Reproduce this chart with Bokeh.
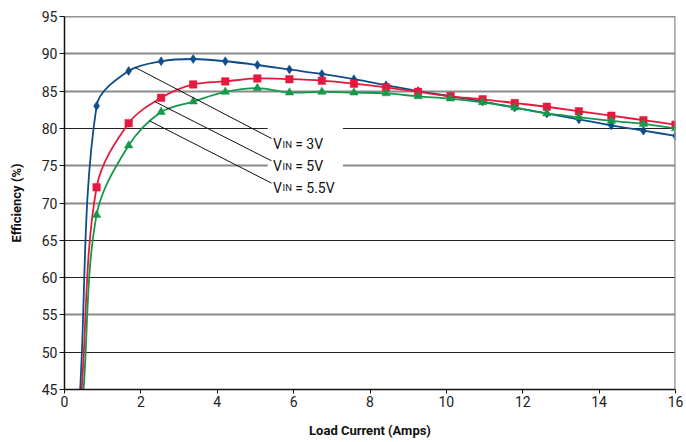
import numpy as np
from bokeh.plotting import figure
from bokeh.models import Range1d, FixedTicker, Grid, Span
from bokeh.core.properties import value
from bokeh.embed import file_html
from bokeh.resources import INLINE

# ---- data ----
load_current = [0.84, 1.68, 2.53, 3.37, 4.21, 5.05, 5.89, 6.74, 7.58, 8.42,
                9.26, 10.11, 10.95, 11.79, 12.63, 13.47, 14.32, 15.16, 16.0]
eff_3v = [83.0, 87.7, 89.0, 89.3, 89.0, 88.5, 87.9, 87.3, 86.6, 85.8,
          85.0, 84.3, 83.6, 82.8, 82.0, 81.2, 80.4, 79.7, 79.0]
eff_5v = [72.1, 80.7, 84.1, 85.9, 86.3, 86.7, 86.6, 86.4, 86.0, 85.5,
          84.9, 84.3, 83.9, 83.4, 82.9, 82.3, 81.7, 81.1, 80.5]
eff_5p5v = [68.4, 77.7, 82.2, 83.6, 84.9, 85.4, 84.8, 84.9, 84.8, 84.7,
            84.3, 84.0, 83.5, 82.8, 82.0, 81.5, 81.0, 80.6, 80.0]
# where each curve leaves the bottom of the chart (45 %)
start_current = [0.41, 0.45, 0.50]
start_eff = [45.0, 45.0, 45.0]

series_names = ["3V", "5V", "5.5V"]
y_ticks = [45, 50, 55, 60, 65, 70, 75, 80, 85, 90, 95]
x_ticks = [0, 2, 4, 6, 8, 10, 12, 14, 16]

FONT = "Roboto"
BLUE, RED, GREEN = "#0F4C8A", "#E6193D", "#14994A"

FRAME_W, FRAME_H = 611, 374
p = figure(width=684, height=440, output_backend="svg", toolbar_location=None,
           x_range=Range1d(0, 16), y_range=Range1d(45, 95),
           min_border_left=64, min_border_right=9, min_border_top=16,
           min_border_bottom=50)
p.outline_line_color = None
p.background_fill_color = "white"
p.xgrid.grid_line_color = None
p.ygrid.grid_line_color = None

gray_ticks = [55, 70, 75, 85, 90]
dark_ticks = [50, 60, 65, 80]
p.add_layout(Grid(dimension=1, ticker=FixedTicker(ticks=gray_ticks),
                  grid_line_color="#8a8a8a", grid_line_width=2))
p.add_layout(Grid(dimension=1, ticker=FixedTicker(ticks=dark_ticks),
                  grid_line_color="#222222", grid_line_width=1.2))
p.add_layout(Span(location=95, dimension="width", line_color="#222222", line_width=1.5))
p.add_layout(Span(location=16, dimension="height", line_color="#8a8a8a", line_width=2.5))

for ax, ticks in ((p.xaxis, x_ticks), (p.yaxis, y_ticks)):
    ax.ticker = FixedTicker(ticks=ticks)
    ax.major_label_text_font = FONT
    ax.major_label_text_font_size = "14px"
    ax.major_label_text_color = "#222222"
    ax.axis_line_color = "#111111"
    ax.axis_line_width = 1.5
    ax.major_tick_line_color = "#111111"
    ax.major_tick_in = 0
    ax.minor_tick_line_color = None
    ax.axis_label_text_font = FONT
    ax.axis_label_text_font_style = "bold"
    ax.axis_label_text_font_size = "13px"
    ax.axis_label_text_color = "#111111"
    ax.major_label_standoff = 2

p.yaxis.major_tick_out = 5
p.xaxis.major_tick_out = 4
p.yaxis.axis_label = "Efficiency (%)"
p.xaxis.axis_label = "Load Current (Amps)"
p.yaxis.axis_label_standoff = 15
p.xaxis.axis_label_standoff = 13

# pixel scale of the frame, used to shape the smoothed curve evenly
SX = FRAME_W / 16.0
SY = FRAME_H / 50.0


def bezier_parts(xs, ys):
    P = np.column_stack([np.asarray(xs, float), np.asarray(ys, float)])
    S = P * np.array([SX, SY])
    d = np.hypot(*(S[1:] - S[:-1]).T)          # chord lengths (px)
    n = len(P)
    c0 = np.empty((n - 1, 2))
    c1 = np.empty((n - 1, 2))
    for i in range(n - 1):
        if i == 0:
            c0[i] = P[0] + (P[1] - P[0]) / 3.0
        else:
            c0[i] = P[i] + (P[i + 1] - P[i - 1]) * d[i] / (3.0 * (d[i - 1] + d[i]))
        j = i + 1
        if j == n - 1:
            c1[i] = P[j] - (P[j] - P[j - 1]) / 3.0
        else:
            c1[i] = P[j] - (P[j + 1] - P[j - 1]) * d[j - 1] / (3.0 * (d[j - 1] + d[j]))
    return dict(x0=P[:-1, 0], y0=P[:-1, 1], x1=P[1:, 0], y1=P[1:, 1],
                cx0=c0[:, 0], cy0=c0[:, 1], cx1=c1[:, 0], cy1=c1[:, 1])


# white patch behind the labels (breaks the grid lines)
p.quad(left=[5.32], right=[7.29], bottom=[71.6], top=[80.7],
       fill_color="white", line_color=None)

curves = [(eff_3v, BLUE, "diamond", 9, 0), (eff_5v, RED, "square", 7.5, 1),
          (eff_5p5v, GREEN, "triangle", 8.5, 2)]
for ys, col, mk, sz, i in curves:
    xs_all = [start_current[i]] + load_current
    ys_all = [start_eff[i]] + ys
    p.bezier(**bezier_parts(xs_all, ys_all), line_color=col, line_width=1.8)
    p.scatter(load_current, ys, marker=mk, size=sz, fill_color=col,
              line_color=col, line_width=0.5)

# leader lines
p.segment(x0=[1.84, 2.36, 2.23], y0=[88.2, 83.6, 81.0],
          x1=[5.42, 5.42, 5.42], y1=[78.65, 75.66, 72.67],
          line_color="#111111", line_width=1)

base_y = [77.85, 74.95, 72.05]
p.text(x=[5.46] * 3, y=base_y, text=["V"] * 3, text_font=value(FONT),
       text_font_size="14px", text_baseline="alphabetic", text_color="#111111")
p.text(x=[5.71] * 3, y=base_y, text=["IN"] * 3, text_font=value(FONT),
       text_font_size="9.5px", text_baseline="alphabetic", text_color="#111111")
p.text(x=[6.04] * 3, y=base_y, text=["= " + s for s in series_names],
       text_font=value(FONT), text_font_size="14px",
       text_baseline="alphabetic", text_color="#111111")

open("out.html", "w").write(file_html(p, INLINE))
